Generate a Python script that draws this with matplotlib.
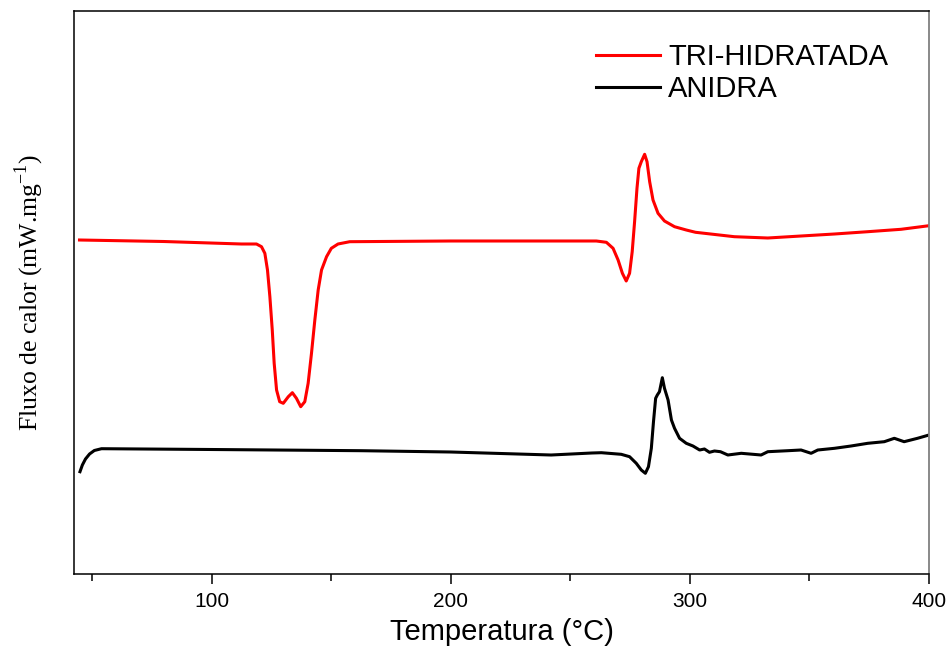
import matplotlib
matplotlib.use("Agg")
import matplotlib.pyplot as plt
from matplotlib.ticker import MultipleLocator

# ── Data (arbitrary heat-flow units) ──────────────────────────────────────────
temp_tri = [44.8, 80, 112.5, 118.8, 120.9, 122.3, 123.4, 124.4, 125.4, 126.2,
            127.2, 128.5, 130.0, 132.1, 133.8, 135.5, 137.3, 139.0, 140.4,
            141.8, 143.2, 144.6, 146.0, 148.1, 150.1, 152.9, 157.8, 200,
            260.9, 265.1, 267.9, 270.0, 271.8, 273.4, 274.8, 275.9, 276.9,
            277.9, 278.7, 279.7, 281.1, 282.1, 283.2, 284.6, 286.7, 289.4,
            293.6, 298.5, 302.4, 318.6, 332.6, 346.5, 360.5, 374.4, 388.3,
            400]
flux_tri = [3.34, 3.325, 3.30, 3.30, 3.273, 3.207, 3.04, 2.773, 2.44, 2.107,
            1.84, 1.723, 1.707, 1.773, 1.813, 1.757, 1.673, 1.723, 1.907,
            2.207, 2.54, 2.84, 3.04, 3.173, 3.257, 3.30, 3.323, 3.33,
            3.33, 3.317, 3.257, 3.14, 3.007, 2.93, 3.007, 3.223, 3.523,
            3.857, 4.057, 4.123, 4.197, 4.123, 3.923, 3.74, 3.607, 3.53,
            3.473, 3.44, 3.417, 3.373, 3.36, 3.38, 3.40, 3.423, 3.447,
            3.483]

temp_ani = [45, 46, 47.3, 49, 51, 54, 100, 162.7, 200, 242, 259, 263, 271.3,
            274.8, 277.6, 279.7, 281.4, 282.7, 283.9, 284.8, 285.7, 286.4,
            287.3, 288.5, 289.4, 290.9, 292.3, 293.6, 295.7, 298.5, 301.3,
            304.1, 306.1, 308.2, 310.3, 312.8, 315.9, 321.5, 329.8, 332.6,
            341, 346.5, 350.7, 353.5, 360.5, 367.4, 374.4, 381.3, 385.5,
            389.6, 395.2, 400]
flux_ani = [1.023, 1.09, 1.15, 1.20, 1.235, 1.253, 1.245, 1.233, 1.22, 1.19,
            1.21, 1.213, 1.197, 1.173, 1.107, 1.04, 1.007, 1.073, 1.257,
            1.523, 1.757, 1.79, 1.823, 1.963, 1.857, 1.74, 1.54, 1.457,
            1.357, 1.307, 1.28, 1.24, 1.25, 1.217, 1.23, 1.223, 1.19, 1.207,
            1.19, 1.223, 1.233, 1.24, 1.207, 1.24, 1.257, 1.28, 1.307, 1.323,
            1.357, 1.323, 1.357, 1.39]

labels = ["TRI-HIDRATADA", "ANIDRA"]
colors = ["#ff0000", "#000000"]

# ── Figure ────────────────────────────────────────────────────────────────────
fig = plt.figure(figsize=(9.52, 6.59), dpi=100)
ax = fig.add_axes([74 / 952, 85 / 659, 855 / 952, 563 / 659])

ax.plot(temp_tri, flux_tri, color=colors[0], lw=2.2, label=labels[0])
ax.plot(temp_ani, flux_ani, color=colors[1], lw=2.2, label=labels[1])

ax.set_xlim(42.5, 400)
ax.set_ylim(0, 5.63)

ax.xaxis.set_major_locator(MultipleLocator(100))
ax.xaxis.set_minor_locator(MultipleLocator(50))
ax.tick_params(axis="x", which="major", direction="out", length=7, width=1.1,
               pad=6, labelsize=15)
ax.tick_params(axis="x", which="minor", direction="out", length=5, width=1.1)
ax.set_yticks([])
for lab in ax.get_xticklabels():
    lab.set_fontfamily("Liberation Sans")

for side in ("left", "top", "bottom"):
    ax.spines[side].set_linewidth(1.1)
    ax.spines[side].set_color("black")
ax.spines["right"].set_linewidth(1.3)
ax.spines["right"].set_color("#808080")

ax.set_xlabel("Temperatura (°C)", fontsize=21, family="Liberation Sans",
              labelpad=5)
ax.set_ylabel("Fluxo de calor (mW.mg$^{\\mathregular{-1}}$)", fontsize=18.5,
              family="Liberation Serif", labelpad=20)

leg = ax.legend(loc="upper left", bbox_to_anchor=(596 / 952, 1 - 43 / 659),
                bbox_transform=fig.transFigure, frameon=False, borderpad=0,
                borderaxespad=0, handlelength=2.2, handletextpad=0.27,
                labelspacing=0.14,
                prop={"family": "Liberation Sans", "size": 21})

fig.savefig("out.png", dpi=100)
